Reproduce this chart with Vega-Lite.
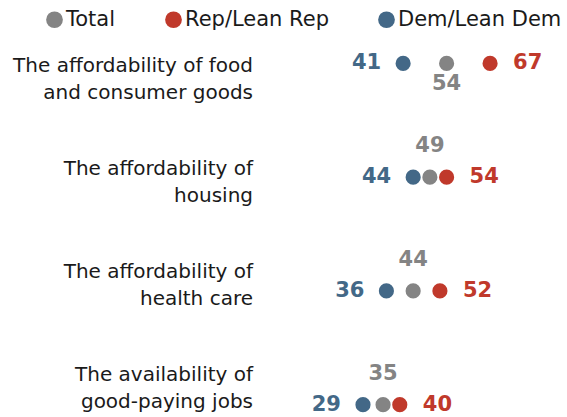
{
  "$schema": "https://vega.github.io/schema/vega-lite/v6.json",
  "width": 301,
  "height": 364,
  "autosize": "none",
  "padding": {"left": 266, "top": 52, "right": 0, "bottom": 1},
  "config": {"view": {"stroke": null}, "font": "DejaVu Sans"},
  "data": {
    "values": [
      {"issue": "The affordability of food\nand consumer goods", "group": "Dem/Lean Dem", "value": 41},
      {"issue": "The affordability of food\nand consumer goods", "group": "Total", "value": 54},
      {"issue": "The affordability of food\nand consumer goods", "group": "Rep/Lean Rep", "value": 67},
      {"issue": "The affordability of\nhousing", "group": "Dem/Lean Dem", "value": 44},
      {"issue": "The affordability of\nhousing", "group": "Total", "value": 49},
      {"issue": "The affordability of\nhousing", "group": "Rep/Lean Rep", "value": 54},
      {"issue": "The affordability of\nhealth care", "group": "Dem/Lean Dem", "value": 36},
      {"issue": "The affordability of\nhealth care", "group": "Total", "value": 44},
      {"issue": "The affordability of\nhealth care", "group": "Rep/Lean Rep", "value": 52},
      {"issue": "The availability of\ngood-paying jobs", "group": "Dem/Lean Dem", "value": 29},
      {"issue": "The availability of\ngood-paying jobs", "group": "Total", "value": 35},
      {"issue": "The availability of\ngood-paying jobs", "group": "Rep/Lean Rep", "value": 40}
    ]
  },
  "resolve": {"scale": {"y": "independent"}},
  "layer": [
    {
      "transform": [{"filter": "datum.group == 'Total'"}],
      "mark": {"type": "text", "align": "right", "baseline": "middle", "dx": -13, "dy": -13.5, "fontSize": 20, "color": "#1a1a1a", "lineBreak": "\n", "lineHeight": 27},
      "encoding": {
        "y": {"field": "issue", "type": "nominal", "sort": null, "scale": {"type": "point", "padding": 0.267}, "axis": null},
        "x": {"datum": 0, "type": "quantitative", "scale": {"domain": [0, 90]}, "axis": null},
        "text": {"field": "issue", "type": "nominal"}
      }
    },
    {
      "mark": {"type": "circle", "size": 230, "opacity": 1},
      "encoding": {
        "y": {"field": "issue", "type": "nominal", "sort": null, "scale": {"type": "point", "padding": 0.1}, "axis": null},
        "x": {"field": "value", "type": "quantitative", "scale": {"domain": [0, 90]}, "axis": null},
        "color": {
          "field": "group", "type": "nominal",
          "scale": {"domain": ["Total", "Rep/Lean Rep", "Dem/Lean Dem"], "range": ["#848484", "#C0392B", "#436887"]},
          "legend": {"orient": "none", "legendX": -222, "legendY": -43, "direction": "horizontal", "title": null, "labelFontSize": 21, "labelColor": "#1a1a1a", "labelLimit": 300, "symbolSize": 280, "symbolType": "circle", "labelOffset": 1, "columnPadding": 47, "symbolStrokeWidth": 0}
        }
      }
    },
    {
      "transform": [{"filter": "datum.group == 'Dem/Lean Dem'"}],
      "mark": {"type": "text", "align": "right", "baseline": "middle", "dx": -22, "fontSize": 21, "fontWeight": "bold"},
      "encoding": {
        "y": {"field": "issue", "type": "nominal", "sort": null, "scale": {"type": "point", "padding": 0.1}, "axis": null},
        "x": {"field": "value", "type": "quantitative", "scale": {"domain": [0, 90]}, "axis": null},
        "color": {"field": "group", "type": "nominal", "legend": null},
        "text": {"field": "value", "type": "quantitative"}
      }
    },
    {
      "transform": [{"filter": "datum.group == 'Rep/Lean Rep'"}],
      "mark": {"type": "text", "align": "left", "baseline": "middle", "dx": 23, "fontSize": 21, "fontWeight": "bold"},
      "encoding": {
        "y": {"field": "issue", "type": "nominal", "sort": null, "scale": {"type": "point", "padding": 0.1}, "axis": null},
        "x": {"field": "value", "type": "quantitative", "scale": {"domain": [0, 90]}, "axis": null},
        "color": {"field": "group", "type": "nominal", "legend": null},
        "text": {"field": "value", "type": "quantitative"}
      }
    },
    {
      "mark": {"type": "text", "align": "center", "baseline": "middle", "dy": 21, "fontSize": 21, "fontWeight": "bold"},
      "encoding": {
        "y": {"field": "issue", "type": "nominal", "sort": null, "scale": {"type": "point", "padding": 0.1}, "axis": null},
        "x": {"field": "value", "type": "quantitative", "scale": {"domain": [0, 90]}, "axis": null},
        "color": {"field": "group", "type": "nominal", "legend": null},
        "text": {"condition": {"test": "datum.group == 'Total' && indexof(datum.issue, 'food') >= 0", "field": "value", "type": "quantitative"}, "value": ""}
      }
    },
    {
      "mark": {"type": "text", "align": "center", "baseline": "middle", "dy": -31, "fontSize": 21, "fontWeight": "bold"},
      "encoding": {
        "y": {"field": "issue", "type": "nominal", "sort": null, "scale": {"type": "point", "padding": 0.1}, "axis": null},
        "x": {"field": "value", "type": "quantitative", "scale": {"domain": [0, 90]}, "axis": null},
        "color": {"field": "group", "type": "nominal", "legend": null},
        "text": {"condition": {"test": "datum.group == 'Total' && indexof(datum.issue, 'food') < 0", "field": "value", "type": "quantitative"}, "value": ""}
      }
    }
  ]
}
